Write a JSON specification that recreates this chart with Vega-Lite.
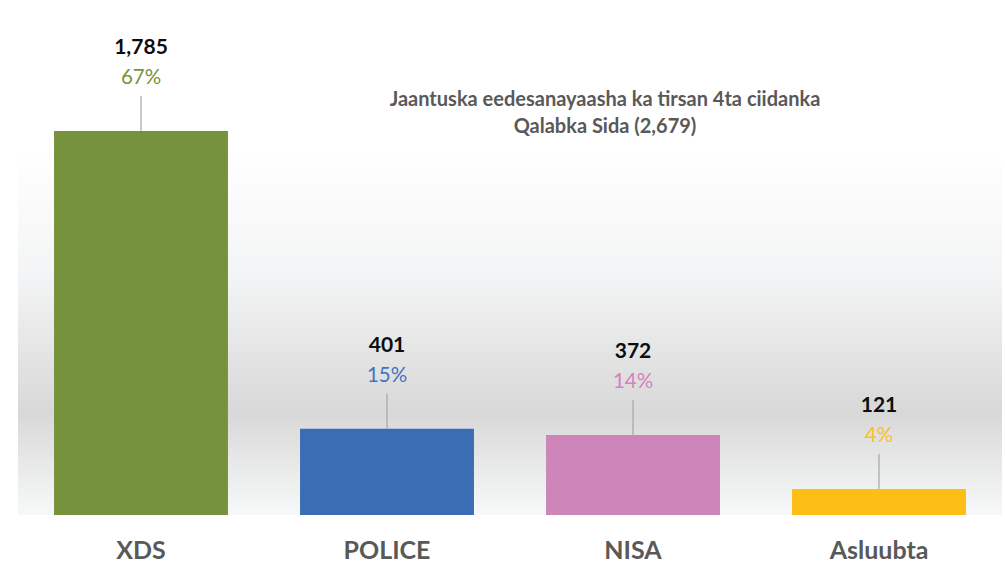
{
  "$schema": "https://vega.github.io/schema/vega-lite/v6.json",
  "width": 984,
  "height": 480,
  "autosize": "none",
  "padding": {"left": 18, "top": 35, "right": 3, "bottom": 59},
  "background": "white",
  "config": {"view": {"stroke": null}, "font": "Lato"},
  "title": {
    "text": ["Jaantuska eedesanayaasha ka tirsan 4ta ciidanka", "Qalabka Sida (2,679)"],
    "orient": "top",
    "anchor": "middle",
    "frame": "group",
    "baseline": "top",
    "offset": 0,
    "dx": 95,
    "dy": 102,
    "fontSize": 20,
    "fontWeight": "bold",
    "color": "#595959",
    "lineHeight": 27,
    "font": "Lato"
  },
  "datasets": {
    "bars": [
      {"category": "XDS", "count": 1785, "count_label": "1,785", "pct_label": "67%"},
      {"category": "POLICE", "count": 401, "count_label": "401", "pct_label": "15%"},
      {"category": "NISA", "count": 372, "count_label": "372", "pct_label": "14%"},
      {"category": "Asluubta", "count": 121, "count_label": "121", "pct_label": "4%"}
    ],
    "backdrop": [{"top": 1700, "bottom": 0}]
  },
  "layer": [
    {
      "data": {"name": "backdrop"},
      "mark": {
        "type": "rect",
        "color": {
          "gradient": "linear",
          "x1": 0, "y1": 0, "x2": 0, "y2": 1,
          "stops": [
            {"offset": 0, "color": "#ffffff"},
            {"offset": 0.35, "color": "#f3f4f5"},
            {"offset": 0.72, "color": "#d8d8d8"},
            {"offset": 0.9, "color": "#eceded"},
            {"offset": 1, "color": "#f7f8f9"}
          ]
        }
      },
      "encoding": {
        "y": {"field": "top", "type": "quantitative"},
        "y2": {"field": "bottom"}
      }
    },
    {
      "data": {"name": "bars"},
      "layer": [
        {
          "mark": {"type": "bar"},
          "encoding": {
            "y": {
              "field": "count",
              "type": "quantitative",
              "scale": {"domain": [0, 2231], "nice": false},
              "axis": null
            },
            "color": {
              "field": "category",
              "type": "nominal",
              "sort": null,
              "scale": {
                "domain": ["XDS", "POLICE", "NISA", "Asluubta"],
                "range": ["#76923c", "#3b6db5", "#cd85ba", "#fdbe16"]
              },
              "legend": null
            }
          }
        },
        {
          "mark": {"type": "rule", "color": "#a6a6a6", "strokeWidth": 1.2, "y2Offset": -35},
          "encoding": {
            "y": {"field": "count", "type": "quantitative"},
            "y2": {"field": "count"}
          }
        },
        {
          "mark": {"type": "text", "dy": -83, "fontSize": 21, "fontWeight": "bold", "color": "#0d0d0d", "baseline": "middle", "font": "Lato"},
          "encoding": {
            "y": {"field": "count", "type": "quantitative"},
            "text": {"field": "count_label"}
          }
        },
        {
          "mark": {"type": "text", "dy": -53, "fontSize": 20.5, "baseline": "middle", "font": "Lato"},
          "encoding": {
            "y": {"field": "count", "type": "quantitative"},
            "text": {"field": "pct_label"},
            "color": {
              "field": "category",
              "type": "nominal",
              "sort": null,
              "scale": {
                "domain": ["XDS", "POLICE", "NISA", "Asluubta"],
                "range": ["#77933c", "#4472c4", "#d680bd", "#fbbf27"]
              },
              "legend": null
            }
          }
        }
      ],
      "encoding": {
        "x": {
          "field": "category",
          "type": "nominal",
          "sort": null,
          "scale": {"paddingInner": 0.293, "paddingOuter": 0.1465},
          "axis": {
            "title": null,
            "domain": false,
            "ticks": false,
            "labelAngle": 0,
            "labelFontSize": 25,
            "labelFontWeight": "bold",
            "labelColor": "#595959",
            "labelPadding": 23,
            "labelFont": "Lato"
          }
        }
      },
      "resolve": {"scale": {"color": "independent"}}
    }
  ]
}
